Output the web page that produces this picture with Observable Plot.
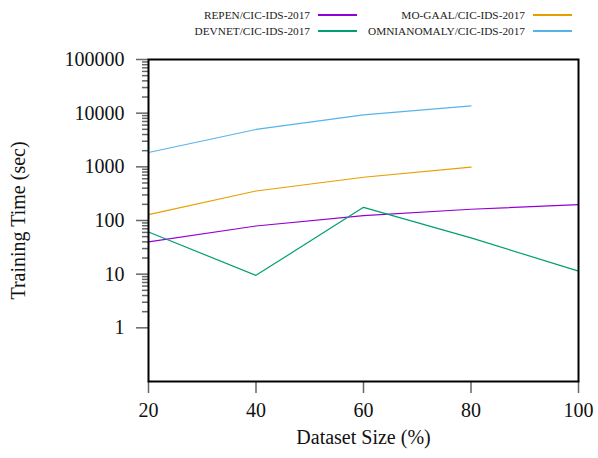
<!DOCTYPE html>
<html><head><meta charset="utf-8">
<script src="https://cdn.jsdelivr.net/npm/d3@7"></script>
<script src="https://cdn.jsdelivr.net/npm/@observablehq/plot@0.6"></script>
<style>
body{margin:0;background:#fff;}
#wrap{position:relative;width:598px;height:458px;font-family:'Liberation Serif';color:#222;}
.lg{position:absolute;font-size:11.3px;line-height:12px;height:12px;display:flex;align-items:center;font-family:'Liberation Serif';}
.lg span{display:inline-block;text-align:right;}
.lg i{display:inline-block;width:39px;height:2px;margin-left:8px;}
</style>
</head><body>
<div id="wrap"></div>
<script>
const sizes = [20, 40, 60, 80, 100];
const seriesNames = ["REPEN/CIC-IDS-2017", "DEVNET/CIC-IDS-2017", "MO-GAAL/CIC-IDS-2017", "OMNIANOMALY/CIC-IDS-2017"];
const repen  = [40, 79, 123, 162, 198];
const devnet = [61, 9.5, 176, 47.4, 11.4];
const mogaal = [129, 355, 640, 984, null];
const omni   = [1850, 4970, 9290, 13700, null];
const colors = ["#9400d3", "#009e73", "#e69f00", "#56b4e9"];
const yMajorTicks = [1, 10, 100, 1000, 10000, 100000];
const xTicks = [20, 40, 60, 80, 100];

const allSeries = [repen, devnet, mogaal, omni];
const data = allSeries.flatMap((vals, i) =>
  sizes.map((s, j) => ({size: s, time: vals[j], series: seriesNames[i]})).filter(d => d.time != null));

const yMinorTicks = d3.range(0, 5).flatMap(e => d3.range(2, 10).map(m => m * 10 ** e));

const chart = Plot.plot({
  width: 598, height: 458,
  marginLeft: 148, marginRight: 20, marginTop: 59, marginBottom: 77,
  style: {fontSize: "20px", color: "#111", background: "#fff"},
  x: {domain: [20, 100]},
  y: {type: "log", domain: [0.1, 100000]},
  color: {domain: seriesNames, range: colors},
  marks: [
    Plot.axisY(yMinorTicks, {tickSize: 6, text: null, label: null, stroke: "#666", strokeWidth: 1.5}),
    Plot.axisY(yMajorTicks, {tickSize: 12, tickPadding: 12, tickFormat: d => String(d), fontSize: 20,
      stroke: "#666", strokeWidth: 1.5,
      label: "Training Time (sec)", labelAnchor: "center", labelArrow: "none", labelOffset: 138}),
    Plot.axisX(xTicks, {tickSize: 12, tickPadding: 9, fontSize: 20, stroke: "#666", strokeWidth: 1.5,
      label: "Dataset Size (%)", labelAnchor: "center", labelArrow: "none", labelOffset: 62}),
    Plot.lineY(data, {x: "size", y: "time", stroke: "series", strokeWidth: 1.2}),
    Plot.frame({stroke: "#000", strokeWidth: 2})
  ]
});
chart.setAttribute("font-family", "Liberation Serif");
chart.style.fontFamily = "'Liberation Serif'";
chart.querySelectorAll("g, text").forEach(el => {
  if (el.hasAttribute("font-family")) el.setAttribute("font-family", "Liberation Serif");
  el.style.fontFamily = "'Liberation Serif'";
});
const wrap = document.getElementById("wrap");
wrap.appendChild(chart);

// legend (two columns, text right-aligned before the sample line)
const legendCols = [310, 525];
const legendRows = [15, 31];
seriesNames.forEach((name, i) => {
  const col = Math.floor(i / 2), row = i % 2;
  const d = document.createElement("div");
  d.className = "lg";
  d.style.right = (598 - (legendCols[col] + 47)) + "px";
  d.style.top = (legendRows[row] - 6) + "px";
  d.innerHTML = `<span>${name}</span><i style="background:${colors[i]}"></i>`;
  wrap.appendChild(d);
});
</script>
</body></html>
